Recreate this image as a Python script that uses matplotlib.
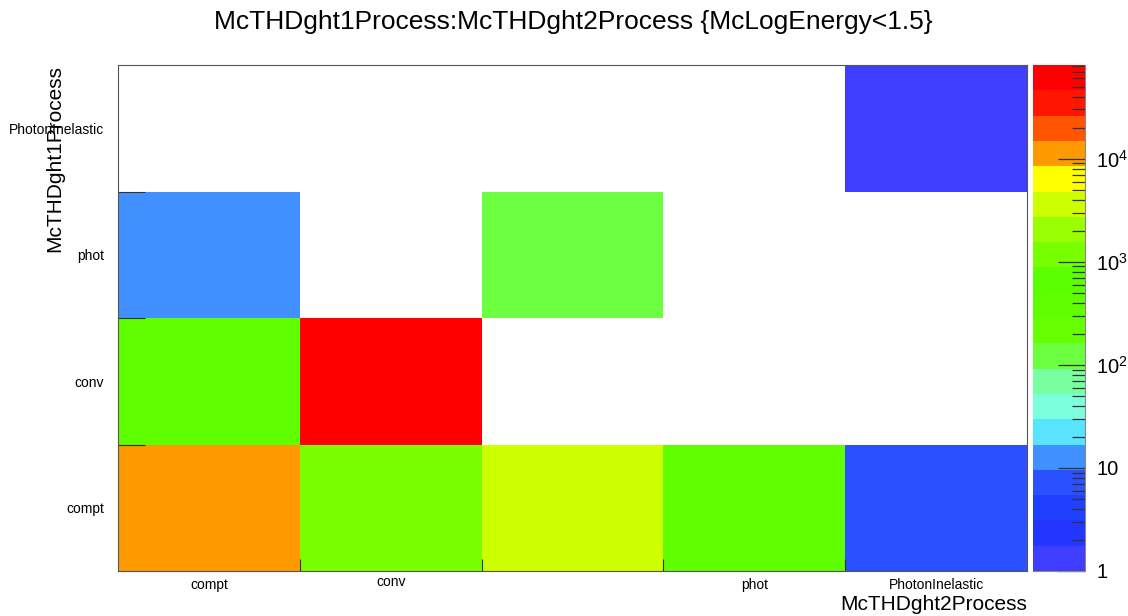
import numpy as np
import matplotlib

matplotlib.use("Agg")

import matplotlib.pyplot as plt
import matplotlib.transforms as mtransforms
from matplotlib.colors import ListedColormap, BoundaryNorm
from matplotlib.ticker import FixedLocator, FixedFormatter, LogLocator, NullFormatter

plt.rcParams["font.family"] = ["Liberation Sans", "DejaVu Sans"]
plt.rcParams["mathtext.fontset"] = "custom"
plt.rcParams["mathtext.rm"] = "Liberation Sans"
plt.rcParams["mathtext.it"] = "Liberation Sans"

# ==================================================
# DATA
# ==================================================

x_labels = ["compt", "conv", "", "phot", "PhotonInelastic"]
y_labels = ["compt", "conv", "phot", "PhotonInelastic"]

# counts per (McTHDght1Process row, McTHDght2Process column), 0 = empty bin
row_compt = [1.1e4, 1.2e3, 3.5e3, 400, 7]
row_conv = [400, 6.5e4, 0, 0, 0]
row_phot = [12, 0, 120, 0, 0]
row_photoninel = [0, 0, 0, 0, 1]

z_min = 1.0
z_max = 8.1e4
n_contours = 20

palette = [
    "#3f3dff", "#2236ff", "#2040ff", "#2a50ff", "#4090ff",
    "#58e4ff", "#7bffdd", "#77ffa0", "#6cff40", "#66ff00",
    "#5fff00", "#5aff00", "#77ff00", "#99ff00", "#ccff00",
    "#ffff00", "#ff9900", "#ff5500", "#ff1500", "#ff0000",
]

# ==================================================
# FIGURE
# ==================================================

W, H = 1128, 616
fig = plt.figure(figsize=(W / 100, H / 100), dpi=100)
PT = 72 / 100  # points per pixel


def px_box(x0, y0, x1, y1):
    return [x0 / W, 1 - y1 / H, (x1 - x0) / W, (y1 - y0) / H]


ax = fig.add_axes(px_box(118, 65, 1027, 571))
cax = fig.add_axes(px_box(1033, 65, 1085, 571))

counts = np.array([row_compt, row_conv, row_phot, row_photoninel], dtype=float)
counts = np.ma.masked_where(counts <= 0, counts)

bounds = np.logspace(np.log10(z_min), np.log10(z_max), n_contours + 1)
cmap = ListedColormap(palette)
norm = BoundaryNorm(bounds, cmap.N)

x_edges = np.arange(len(x_labels) + 1)
y_edges = np.arange(len(y_labels) + 1)

ax.pcolormesh(x_edges, y_edges, counts, cmap=cmap, norm=norm)
ax.set_xlim(x_edges[0], x_edges[-1])
ax.set_ylim(y_edges[0], y_edges[-1])

# labels at bin centres, ticks at bin edges
ax.set_xticks(x_edges[:-1] + 0.5)
ax.set_xticklabels(x_labels, fontsize=10)
ax.set_yticks(y_edges[:-1] + 0.5)
ax.set_yticklabels(y_labels, fontsize=10)
ax.tick_params(axis="both", which="major", length=0)
ax.tick_params(axis="x", which="major", pad=5)
ax.tick_params(axis="y", which="major", pad=10)

# short labels without ascenders sit a little higher
for lab in ax.get_xticklabels():
    if lab.get_text() == "conv":
        lab.set_transform(lab.get_transform() + mtransforms.ScaledTranslation(0, 3 / 100, fig.dpi_scale_trans))

ax.set_xticks(x_edges[1:-1], minor=True)
ax.set_yticks(y_edges[1:-1], minor=True)
ax.tick_params(axis="x", which="minor", direction="in", length=12 * PT, width=0.8, color="#333333")
ax.tick_params(axis="y", which="minor", direction="in", length=27 * PT, width=0.8, color="#333333")

for sp in ax.spines.values():
    sp.set_linewidth(0.8)
    sp.set_color("#555555")

# ==================================================
# PALETTE AXIS
# ==================================================

band_vals = np.sqrt(bounds[:-1] * bounds[1:])
cax.set_yscale("log")
cax.pcolormesh([0, 1], bounds, band_vals[:, None], cmap=cmap, norm=norm)
cax.set_xlim(0, 1)
cax.set_ylim(z_min, z_max)
cax.set_xticks([])

cax.yaxis.tick_right()
cax.yaxis.set_major_locator(FixedLocator([1, 10, 100, 1e3, 1e4]))
cax.yaxis.set_major_formatter(
    FixedFormatter(["1", "10", r"$10^{2}$", r"$10^{3}$", r"$10^{4}$"])
)
cax.yaxis.set_minor_locator(LogLocator(base=10, subs=np.arange(2, 10)))
cax.yaxis.set_minor_formatter(NullFormatter())
cax.tick_params(axis="y", which="major", direction="in", length=27 * PT, width=0.9,
                color="#333333", labelsize=14.5, pad=8)
cax.tick_params(axis="y", which="minor", direction="in", length=13 * PT, width=0.9,
                color="#333333")
for side in ["top", "left"]:
    cax.spines[side].set_visible(False)
cax.spines["right"].set_color("#888888")
cax.spines["bottom"].set_color("#888888")

# ==================================================
# TITLES
# ==================================================

fig.text(573 / W, 1 - 22 / H,
         "McTHDght1Process:McTHDght2Process {McLogEnergy<1.5}",
         ha="center", va="center", fontsize=19)

fig.text(1027 / W, 1 - 605 / H, "McTHDght2Process",
         ha="right", va="center", fontsize=15)

fig.text(55 / W, 1 - 65 / H, "McTHDght1Process",
         ha="center", va="top", rotation=90, fontsize=15)

fig.savefig("out.png", dpi=100)
plt.close(fig)
